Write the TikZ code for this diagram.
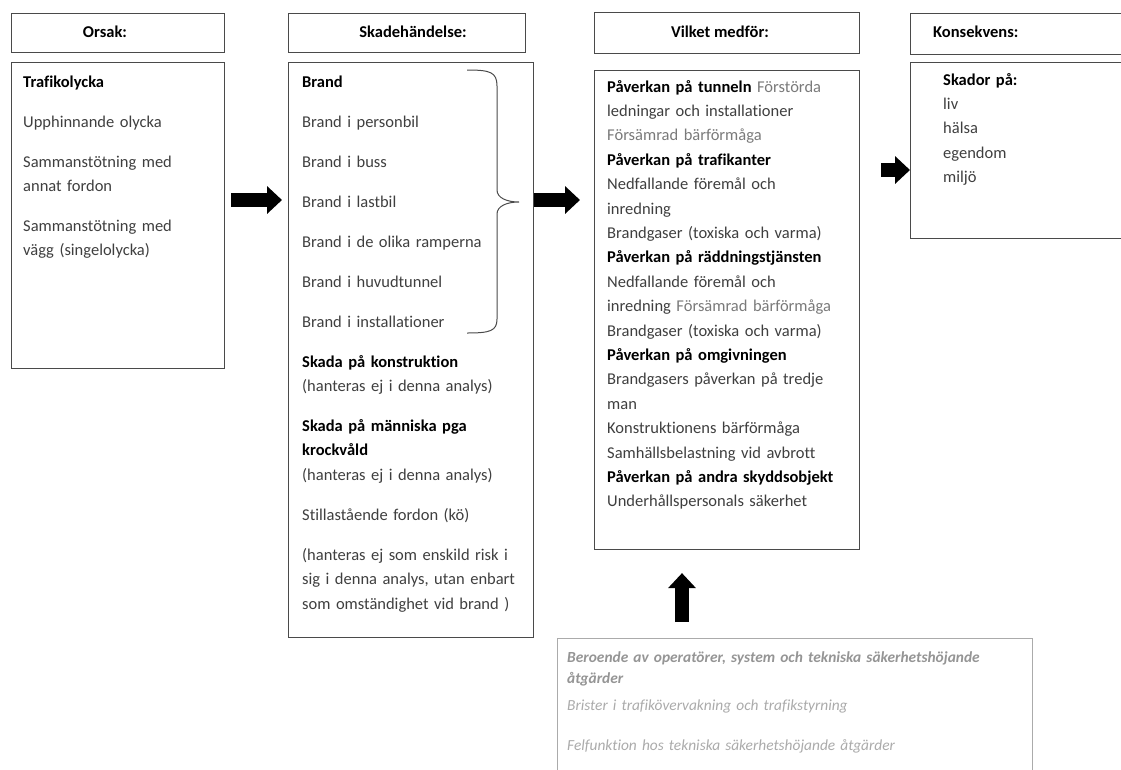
\documentclass[tikz,border=0pt]{standalone}
\usepackage{fontspec}
\setmainfont{Carlito}[Ligatures=NoCommon]
\usepackage{tikz}
\usetikzlibrary{arrows.meta}
\definecolor{textgray}{HTML}{3F3F3F}
\definecolor{linegray}{HTML}{4A4A4A}
\definecolor{midgray}{HTML}{7A7A7A}
\definecolor{palegray}{HTML}{ABABAB}
\newcommand{\hd}[1]{{\color{black}\bfseries #1}}
\newcommand{\pale}[1]{{\color{midgray}#1}}

\begin{document}
\begin{tikzpicture}[x=1pt,y=-1pt,
  box node/.style={draw=linegray,line width=1.1pt,fill=white,anchor=north west,inner sep=0pt},
  head node/.style={inner sep=0pt,font=\fontsize{16.5}{20}\selectfont\bfseries},
  txt node/.style={anchor=base west,align=left,inner sep=0pt,text width=520pt,text=textgray,font=\fontsize{16.5}{24.4}\selectfont},
  fat arrow/.style={line width=14pt,black,-{Triangle[width=27pt,length=15pt]}}]

  \useasboundingbox[fill=white] (0,0) rectangle (1121,769);

  \node[box node,minimum width=213pt,minimum height=39pt] (orsakhead) at (11,13) {};
  \node[box node,minimum width=213pt,minimum height=306pt] (orsak) at (11,62) {};
  \node[box node,minimum width=237pt,minimum height=39pt] (skadahead) at (288,13) {};
  \node[box node,minimum width=245pt,minimum height=575pt] (skada) at (288,62) {};
  \node[box node,minimum width=265pt,minimum height=41pt] (vilkethead) at (594,12) {};
  \node[box node,minimum width=265pt,minimum height=479pt] (vilket) at (594,70) {};
  \node[box node,minimum width=230pt,minimum height=41pt] (konshead) at (910,13) {};
  \node[box node,minimum width=230pt,minimum height=176pt] (kons) at (910,62) {};
  \node[box node,draw=palegray,minimum width=475pt,minimum height=160pt] (atgard) at (557,638) {};

  \node[head node] (orsaklbl) at (105,32) {Orsak:};
  \node[head node] (skadalbl) at (413,32) {Skadehändelse:};
  \node[head node] (vilketlbl) at (720,32) {Vilket medför:};
  \node[head node,anchor=west] (konslbl) at (933,32) {Konsekvens:};

  \node[txt node] (orsaktxt) at (23,87) {\hd{Trafikolycka}\\[15.6pt]Upphinnande olycka\\[15.6pt]Sammanstötning med\\annat fordon\\[15.6pt]Sammanstötning med\\vägg (singelolycka)};
  \node[txt node] (skadatxt) at (302,87) {\hd{Brand}\\[15.6pt]Brand i personbil\\[15.6pt]Brand i buss\\[15.6pt]Brand i lastbil\\[15.6pt]Brand i de olika ramperna\\[15.6pt]Brand i huvudtunnel\\[15.6pt]Brand i installationer\\[15.6pt]\hd{Skada på konstruktion}\\(hanteras ej i denna analys)\\[15.6pt]\hd{Skada på människa pga}\\\hd{krockvåld}\\(hanteras ej i denna analys)\\[15.6pt]Stillastående fordon (kö)\\[15.6pt](hanteras ej som enskild risk i\\sig i denna analys, utan enbart\\som omständighet vid brand )};
  \node[txt node] (vilkettxt) at (607,92) {\hd{Påverkan på tunneln} \pale{Förstörda}\\ledningar och installationer\\\pale{Försämrad bärförmåga}\\\hd{Påverkan på trafikanter}\\Nedfallande föremål och\\inredning\\Brandgaser (toxiska och varma)\\\hd{Påverkan på räddningstjänsten}\\Nedfallande föremål och\\inredning \pale{Försämrad bärförmåga}\\Brandgaser (toxiska och varma)\\\hd{Påverkan på omgivningen}\\Brandgasers påverkan på tredje\\man\\Konstruktionens bärförmåga\\Samhällsbelastning vid avbrott\\\hd{Påverkan på andra skyddsobjekt}\\Underhållspersonals säkerhet};
  \node[txt node] (konstxt) at (943,85) {\hd{Skador på:}\\liv\\hälsa\\egendom\\miljö};
  \node[txt node,text=palegray,font=\fontsize{15.4}{22}\selectfont\itshape] (atgardtxt) at (567,662) {{\color{midgray!80}\bfseries Beroende av operatörer, system och tekniska säkerhetshöjande}\\[-1pt]{\color{midgray!80}\bfseries åtgärder}\\[5pt]Brister i trafikövervakning och trafikstyrning\\[18pt]Felfunktion hos tekniska säkerhetshöjande åtgärder};

  \draw[linegray,line width=1pt] (467,70) .. controls (490,70) and (497,72) .. (497,86) -- (497,190) .. controls (497,198) and (507,202) .. (519,202) .. controls (507,202) and (497,206) .. (497,214) -- (497,319) .. controls (497,331) and (490,333) .. (467,333);

  \coordinate (a1) at (0,200);
  \coordinate (a3) at (0,170);
  \coordinate (a4) at (682,0);
  \draw[fat arrow,shorten <=6pt,shorten >=6pt] (orsak.east |- a1) -- (skada.west |- a1);
  \draw[fat arrow,shorten >=14pt] (skada.east |- a1) -- (vilket.west |- a1);
  \draw[fat arrow,shorten <=21pt] (vilket.east |- a3) -- (kons.west |- a3);
  \draw[fat arrow,shorten <=16pt,shorten >=23pt] (atgard.north -| a4) -- (vilket.south -| a4);
\end{tikzpicture}
\end{document}
